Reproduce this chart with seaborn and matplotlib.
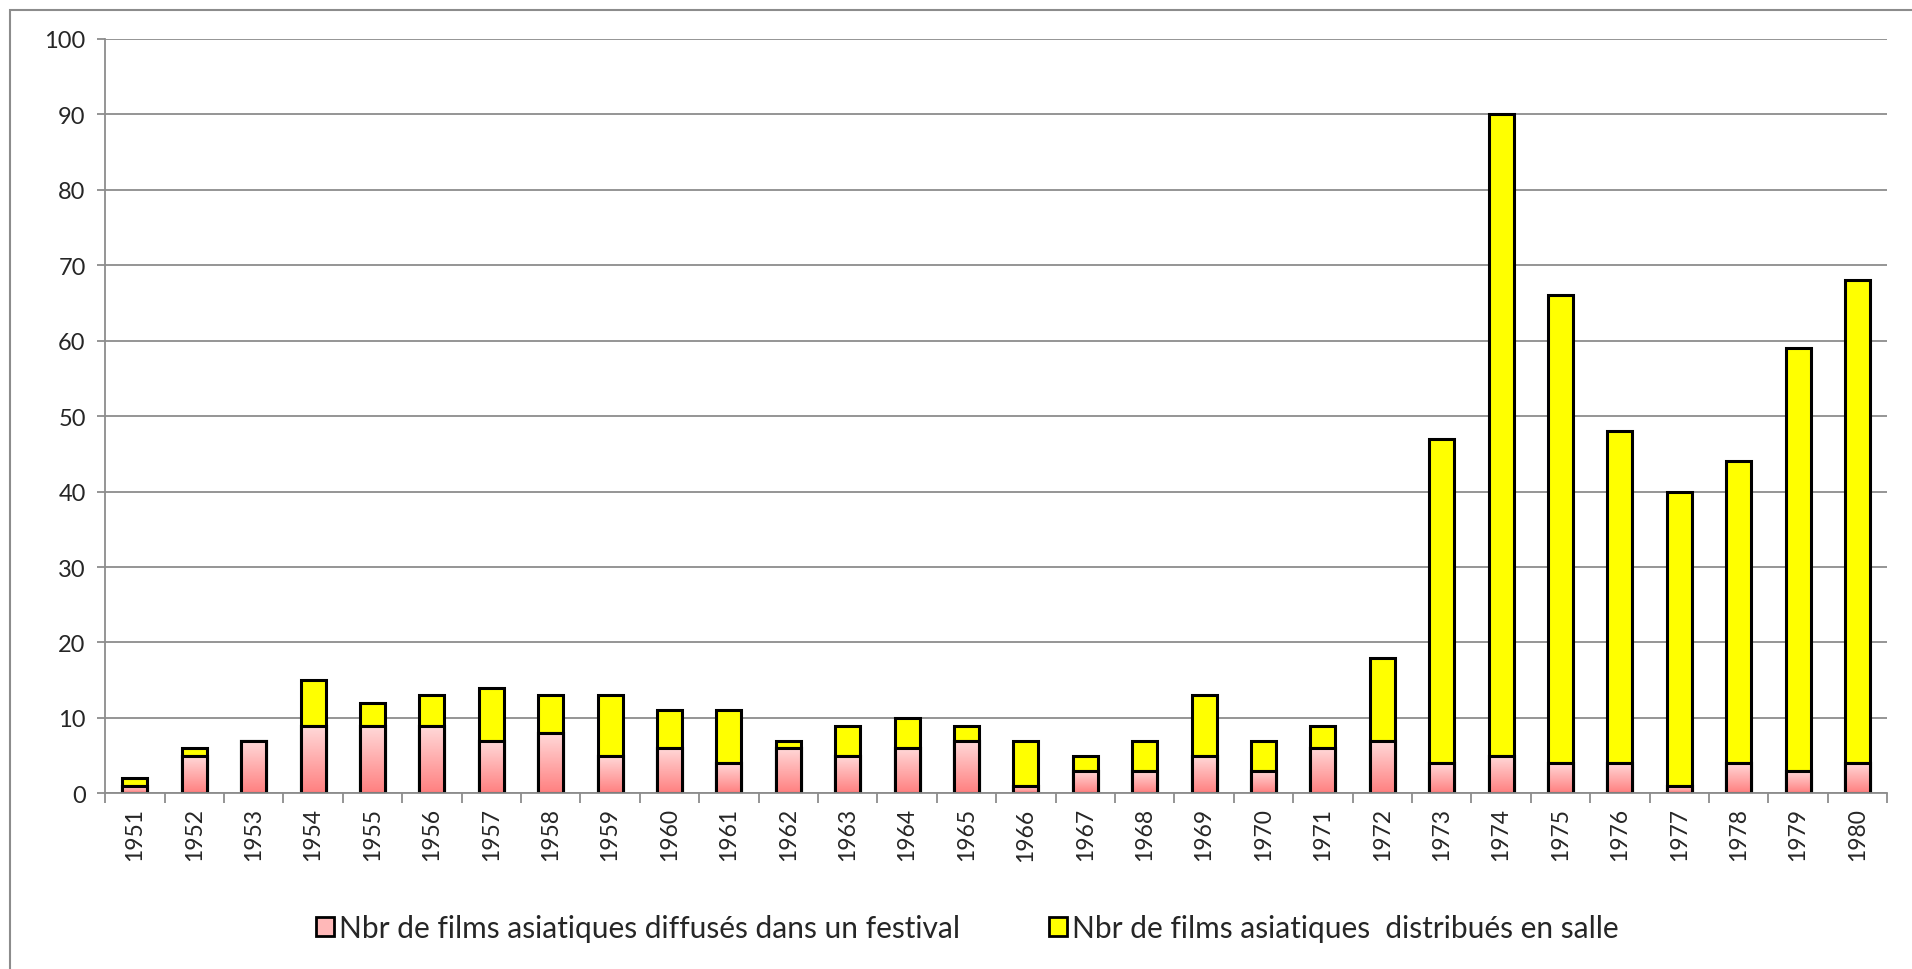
import numpy as np
import matplotlib
matplotlib.use("Agg")
import matplotlib.pyplot as plt
from matplotlib.patches import Rectangle, Patch
from matplotlib.colors import LinearSegmentedColormap
import seaborn as sns

years = [str(y) for y in range(1951, 1981)]
festival = [1, 5, 7, 9, 9, 9, 7, 8, 5, 6, 4, 6, 5, 6, 7, 1, 3, 3, 5, 3,
            6, 7, 4, 5, 4, 4, 1, 4, 3, 4]
totals = [2, 6, 7, 15, 12, 13, 14, 13, 13, 11, 11, 7, 9, 10, 9, 7, 5, 7, 13, 7,
          9, 18, 47, 90, 66, 48, 40, 44, 59, 68]
salle = [t - f for t, f in zip(totals, festival)]

lab_fest = "Nbr de films asiatiques diffusés dans un festival"
lab_salle = "Nbr de films asiatiques  distribués en salle"

sns.set_style("white")
plt.rcParams["font.family"] = ["Lato", "DejaVu Sans"]

fig, ax = plt.subplots(figsize=(19.12, 9.70), dpi=100)
fig.subplots_adjust(left=0.055, right=0.987, top=0.959, bottom=0.181)

# gridlines behind bars
ax.set_axisbelow(True)
ax.yaxis.grid(True, color="#8c8c8c", linewidth=1.3)

# stacked: total (yellow) then festival on top of it
sns.barplot(x=years, y=totals, color="#FFFF00", saturation=1, width=0.42,
            edgecolor="black", linewidth=2.2, ax=ax)
n = len(ax.patches)
sns.barplot(x=years, y=festival, color="#FFB0B0", saturation=1, width=0.42,
            edgecolor="black", linewidth=2.2, ax=ax)

# pink gradient inside festival bars
cmap = LinearSegmentedColormap.from_list("pk", ["#FF8080", "#FFDADA"])
grad = np.linspace(0, 1, 100).reshape(-1, 1)
for p in ax.patches[n:]:
    x, y = p.get_x(), p.get_y()
    w, h = p.get_width(), p.get_height()
    im = ax.imshow(grad, extent=[x, x + w, y, y + h], origin="lower",
                   aspect="auto", cmap=cmap, zorder=p.get_zorder() + 0.1)
    im.set_clip_path(p)
    ax.add_patch(Rectangle((x, y), w, h, fill=False, edgecolor="black",
                           linewidth=2.2, zorder=p.get_zorder() + 0.2))

ax.set_xlim(-0.5, len(years) - 0.5)
ax.set_ylim(0, 100)
ax.set_yticks(range(0, 101, 10))
ax.set_xlabel("")
ax.set_ylabel("")

for s in ["top", "right"]:
    ax.spines[s].set_visible(False)
for s in ["left", "bottom"]:
    ax.spines[s].set_color("#8c8c8c")
    ax.spines[s].set_linewidth(1.3)

ax.tick_params(axis="y", labelsize=17, length=6, color="#8c8c8c", width=1.3,
               left=True, pad=8)
ax.tick_params(axis="x", which="major", labelsize=16.5, length=0, rotation=90, pad=10)
ax.set_xticks(np.arange(-0.5, len(years), 1), minor=True)
ax.tick_params(axis="x", which="minor", length=7, color="#8c8c8c", width=1.3,
               bottom=True)

handles = [Patch(facecolor="#FFB8B8", edgecolor="black", linewidth=2, label=lab_fest),
           Patch(facecolor="#FFFF00", edgecolor="black", linewidth=2, label=lab_salle)]
fig.legend(handles=handles, loc="center", bbox_to_anchor=(0.506, 1 - 929 / 970),
           ncol=2, frameon=False, fontsize=21.5, handlelength=0.6, handleheight=0.6,
           handletextpad=0.15, columnspacing=3)

# outer chart frame
fig.patches.append(Rectangle((10 / 1912, -0.05), 1.2, 1.05 - 11 / 970,
                             transform=fig.transFigure, fill=False,
                             edgecolor="#8c8c8c", linewidth=1.5))

fig.savefig("out.png", dpi=100)
